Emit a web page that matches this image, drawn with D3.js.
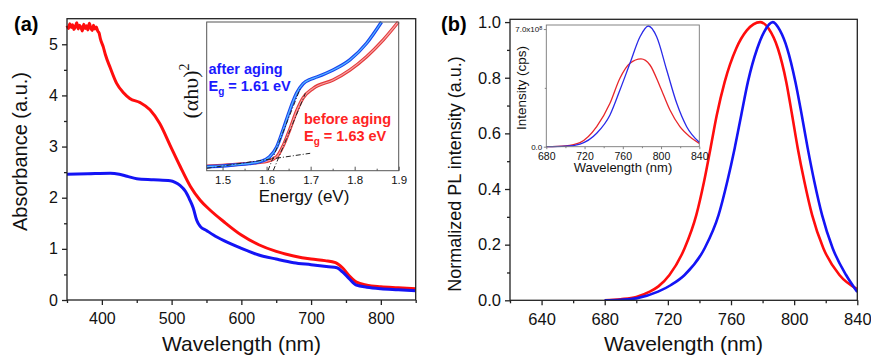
<!DOCTYPE html>
<html>
<head>
<meta charset="utf-8">
<script src="https://cdn.jsdelivr.net/npm/d3@7"></script>
<style>
  body { margin: 0; background: #fff; }
  svg { font-family: "Liberation Sans", Arial, sans-serif; }
</style>
</head>
<body>
<svg id="fig" width="871" height="356"></svg>
<script>
// ---- (a) absorbance, before aging (red) / after aging (blue)
const absWaveRed = [350, 352, 354, 356, 358, 360, 362, 364, 366, 368, 370, 372, 374, 376, 378, 380, 382, 384, 386, 388, 390, 392, 394, 396, 398,
  402, 405, 412, 421, 431, 440, 455, 469, 483, 498, 512, 527, 541, 555, 575, 600, 625, 650, 675, 700, 720, 735, 745, 755, 765, 780, 800, 825, 850];
const absRed = [5.36, 5.31, 5.40, 5.33, 5.38, 5.29, 5.35, 5.42, 5.30, 5.37, 5.33, 5.26, 5.39, 5.31, 5.36, 5.28, 5.41, 5.32, 5.27, 5.37, 5.30, 5.34, 5.26, 5.22, 5.10,
  4.95, 4.80, 4.54, 4.24, 4.05, 3.94, 3.86, 3.72, 3.45, 3.02, 2.62, 2.22, 1.95, 1.76, 1.53, 1.27, 1.08, 0.95, 0.86, 0.80, 0.77, 0.73, 0.63, 0.47, 0.35, 0.29, 0.26, 0.24, 0.22];
const absWaveBlue = [350, 380, 412, 425, 436, 450, 474, 498, 505, 512, 520, 526, 531, 536, 541, 550, 560, 575, 600, 625, 650, 675, 700, 725, 737, 745, 755, 765, 780, 800, 825, 850];
const absBlue = [2.46, 2.47, 2.48, 2.46, 2.42, 2.37, 2.35, 2.33, 2.30, 2.24, 2.12, 1.96, 1.80, 1.56, 1.44, 1.36, 1.27, 1.16, 1.01, 0.88, 0.80, 0.73, 0.69, 0.65, 0.63, 0.55, 0.41, 0.29, 0.25, 0.22, 0.20, 0.18];
const absXTicks = [400, 500, 600, 700, 800];
const absYTicks = [0, 1, 2, 3, 4, 5];

// ---- (a) inset, Tauc plot (normalised)
const taucEBlue = [1.464, 1.50, 1.524, 1.56, 1.585, 1.607, 1.623, 1.638, 1.653, 1.668, 1.683, 1.70, 1.714, 1.751, 1.789, 1.827, 1.861];
const taucBlue = [0.027, 0.032, 0.038, 0.048, 0.061, 0.094, 0.16, 0.28, 0.41, 0.52, 0.585, 0.615, 0.63, 0.677, 0.745, 0.857, 1.0];
const taucERed = [1.464, 1.50, 1.55, 1.585, 1.60, 1.623, 1.638, 1.653, 1.668, 1.683, 1.706, 1.751, 1.789, 1.827, 1.865, 1.899];
const taucRed = [0.03, 0.036, 0.047, 0.056, 0.063, 0.094, 0.17, 0.28, 0.40, 0.49, 0.554, 0.61, 0.677, 0.767, 0.88, 1.0];
const taucBase = [[1.464, 0.016], [1.699, 0.117]];
const taucTangentBlue = [[1.603, 0], [1.676, 0.55]];
const taucTangentRed = [[1.615, 0], [1.688, 0.52]];
const taucXTicks = [1.5, 1.6, 1.7, 1.8, 1.9];

// ---- (b) normalised PL
const plWaveRed = [680, 690, 700, 708.5, 714, 721, 730.6, 738, 742.9, 747, 751, 756, 763.3, 770, 778.5, 784, 789.7, 795, 798.7, 802.3, 806.5, 811.4, 818.5, 828.7, 840];
const plRed = [0, 0.004, 0.012, 0.031, 0.05, 0.091, 0.187, 0.306, 0.426, 0.546, 0.666, 0.785, 0.905, 0.97, 1.0, 0.975, 0.905, 0.785, 0.666, 0.546, 0.426, 0.306, 0.187, 0.091, 0.04];
const plWaveBlue = [680, 690, 700, 713.8, 722, 730.6, 743.3, 752.1, 757.6, 762.3, 766.5, 770.7, 776.6, 781, 786.5, 791, 795.6, 800.8, 804.8, 808.6, 812.8, 817.7, 824.4, 832.9, 840];
const plBlue = [0, 0.002, 0.007, 0.031, 0.055, 0.091, 0.187, 0.306, 0.426, 0.546, 0.666, 0.785, 0.905, 0.965, 1.0, 0.97, 0.905, 0.785, 0.666, 0.546, 0.426, 0.306, 0.187, 0.091, 0.03];
const plXTicks = [640, 680, 720, 760, 800, 840];
const plYTicks = [0, 0.2, 0.4, 0.6, 0.8, 1.0];

// ---- (b) inset, raw PL intensity (x 1e8 cps)
const rawWave = [680, 700, 715.2, 732.7, 746.6, 757, 767.5, 778, 786.7, 795.4, 805.9, 816.4, 826.8, 840];
const rawBlue = [0, 0.03, 0.16, 0.8, 1.89, 3.37, 4.96, 6.54, 7.18, 6.54, 4.56, 2.58, 1.19, 0.26];
const rawWaveRed = [680, 700, 715.2, 732.7, 746.6, 757, 767.5, 779, 788.4, 799, 809.3, 819.7, 830.2, 840];
const rawRed = [0, 0.05, 0.24, 1.19, 2.58, 4.07, 4.96, 5.22, 4.86, 3.57, 2.18, 1.19, 0.59, 0.2];
const rawXTicks = [680, 720, 760, 800, 840];

const RED = '#ff0d0d', BLUE = '#1414f5';
const zip = (xs, ys) => xs.map((v, i) => [v, ys[i]]);

const svg = d3.select('#fig');

function axes(g, x, y, o) {
  const [x0, x1] = x.range();
  const [y0, y1] = y.range();
  g.append('g').attr('transform', `translate(0,${y0})`)
    .call(d3.axisBottom(x).tickValues(o.xTicks).tickFormat(o.xFmt).tickSize(o.tick).tickPadding(o.xPad));
  if (o.xMinor) g.append('g').attr('transform', `translate(0,${y0})`)
    .call(d3.axisBottom(x).tickValues(o.xMinor).tickFormat('').tickSize(o.minor));
  if (o.yTicks) g.append('g').attr('transform', `translate(${x0},0)`)
    .call(d3.axisLeft(y).tickValues(o.yTicks).tickFormat(o.yFmt).tickSize(o.tick).tickPadding(o.yPad));
  if (o.yMinor) g.append('g').attr('transform', `translate(${x0},0)`)
    .call(d3.axisLeft(y).tickValues(o.yMinor).tickFormat('').tickSize(o.minor));
  g.selectAll('.domain').remove();
  g.selectAll('.tick line').attr('stroke', o.color).attr('stroke-width', o.lw);
  g.selectAll('.tick text').attr('fill', '#111').style('font-size', o.font + 'px').style('font-family', '"Liberation Sans", Arial, sans-serif');
  g.append('rect')
    .attr('x', x0).attr('y', y1).attr('width', x1 - x0).attr('height', y0 - y1)
    .attr('fill', 'none').attr('stroke', o.color).attr('stroke-width', o.lw);
}

function curve(g, x, y, pts, color, width) {
  return g.append('path')
    .datum(pts)
    .attr('fill', 'none')
    .attr('stroke', color)
    .attr('stroke-width', width)
    .attr('stroke-linejoin', 'round')
    .attr('d', d3.line().x(d => x(d[0])).y(d => y(d[1])).curve(d3.curveMonotoneX));
}

// ================= panel (a)
const ax = d3.scaleLinear().domain([350, 850]).range([67, 415.7]);
const ay = d3.scaleLinear().domain([0, 5.5]).range([300, 18.7]);
const ga = svg.append('g');
curve(ga, ax, ay, zip(absWaveRed, absRed), RED, 3);
curve(ga, ax, ay, zip(absWaveBlue, absBlue), BLUE, 3);
axes(ga, ax, ay, {
  xTicks: absXTicks, xFmt: d3.format('d'), xMinor: [350, 450, 550, 650, 750, 850],
  yTicks: absYTicks, yFmt: d3.format('d'), yMinor: [0.5, 1.5, 2.5, 3.5, 4.5],
  tick: 5, minor: 3, xPad: 8, yPad: 4, font: 16, color: '#222', lw: 1.3
});
ga.append('text').attr('x', 241.5).attr('y', 351).attr('text-anchor', 'middle')
  .style('font-size', '21px').attr('fill', '#111').text('Wavelength (nm)');
ga.append('text').attr('transform', 'translate(27,151.5) rotate(-90)').attr('text-anchor', 'middle')
  .style('font-size', '20px').attr('fill', '#111').text('Absorbance (a.u.)');
ga.append('text').attr('x', 14).attr('y', 31).style('font-size', '20px').style('font-weight', 'bold').text('(a)');

// ----- inset (a)
const ix = d3.scaleLinear().domain([1.464, 1.9]).range([206.7, 398.7]);
const iy = d3.scaleLinear().domain([0, 1]).range([170.7, 22]);
const gi = svg.append('g');
gi.append('rect').attr('x', 206.7).attr('y', 22).attr('width', 192).attr('height', 148.7).attr('fill', '#fff');
curve(gi, ix, iy, zip(taucERed, taucRed), '#e4393b', 3.4);
curve(gi, ix, iy, zip(taucERed, taucRed), '#f4a3a3', 1.2);
curve(gi, ix, iy, zip(taucEBlue, taucBlue), '#1844f0', 3.4);
curve(gi, ix, iy, zip(taucEBlue, taucBlue), '#58b8ff', 1.2);
[taucBase, taucTangentBlue, taucTangentRed].forEach(seg => {
  gi.append('path').datum(seg)
    .attr('fill', 'none').attr('stroke', '#222').attr('stroke-width', 1)
    .attr('stroke-dasharray', '5,2,1,2')
    .attr('d', d3.line().x(d => ix(d[0])).y(d => iy(d[1])));
});
axes(gi, ix, iy, {
  xTicks: taucXTicks, xFmt: d3.format('.1f'), xMinor: [1.55, 1.65, 1.75, 1.85],
  tick: -4, minor: -2, xPad: 5.5, font: 11.5, color: '#555', lw: 1
});
gi.append('text').attr('x', 304).attr('y', 201.5).attr('text-anchor', 'middle')
  .style('font-size', '17px').attr('fill', '#111').text('Energy (eV)');
gi.append('text').attr('transform', 'translate(198,91) rotate(-90)').attr('text-anchor', 'middle')
  .style('font-family', '"Liberation Serif", "DejaVu Serif", serif').style('font-size', '22px').attr('fill', '#111')
  .call(t => {
    t.append('tspan').text('(αhυ)');
    t.append('tspan').attr('dy', -9).style('font-size', '14px').text('2');
  });

function gapLabel(g, x, y, color, head, value) {
  g.append('text').attr('x', x).attr('y', y).attr('fill', color)
    .style('font-size', '14.5px').style('font-weight', 'bold').text(head);
  const t = g.append('text').attr('x', x).attr('y', y + 16.5).attr('fill', color)
    .style('font-size', '14.5px').style('font-weight', 'bold');
  t.append('tspan').text('E');
  t.append('tspan').attr('dy', 4).style('font-size', '10px').text('g');
  t.append('tspan').attr('dy', -4).text(` = ${value} eV`);
}
gapLabel(gi, 208.5, 74, '#1a1aff', 'after aging', '1.61');
gapLabel(gi, 304, 124, '#ff2424', 'before aging', '1.63');

// ================= panel (b)
const bx = d3.scaleLinear().domain([620, 840]).range([510, 857.3]);
const by = d3.scaleLinear().domain([0, 1.01]).range([300.3, 19.3]);
const gb = svg.append('g');
gb.append('clipPath').attr('id', 'clipb').append('rect')
  .attr('x', 510).attr('y', 19.3).attr('width', 347.3).attr('height', 281);
const gbc = gb.append('g').attr('clip-path', 'url(#clipb)');
curve(gbc, bx, by, zip(plWaveRed, plRed), RED, 2.6);
curve(gbc, bx, by, zip(plWaveBlue, plBlue), BLUE, 2.6);
axes(gb, bx, by, {
  xTicks: plXTicks, xFmt: d3.format('d'), xMinor: [620, 660, 700, 740, 780, 820],
  yTicks: plYTicks, yFmt: d3.format('.1f'), yMinor: [0.1, 0.3, 0.5, 0.7, 0.9],
  tick: 5, minor: 3, xPad: 8, yPad: 4, font: 16.5, color: '#222', lw: 1.3
});
gb.append('text').attr('x', 683.5).attr('y', 351).attr('text-anchor', 'middle')
  .style('font-size', '21px').attr('fill', '#111').text('Wavelength (nm)');
gb.append('text').attr('transform', 'translate(460.5,174) rotate(-90)').attr('text-anchor', 'middle')
  .style('font-size', '18px').attr('fill', '#111').text('Normalized PL intensity (a.u.)');
gb.append('text').attr('x', 441).attr('y', 31).style('font-size', '20px').style('font-weight', 'bold').text('(b)');

// ----- inset (b)
const jx = d3.scaleLinear().domain([680, 840]).range([546.3, 699.3]);
const jy = d3.scaleLinear().domain([0, 7.24]).range([146.7, 25]);
const gj = svg.append('g');
gj.append('rect').attr('x', 546.3).attr('y', 25).attr('width', 153).attr('height', 121.7).attr('fill', '#fff');
curve(gj, jx, jy, zip(rawWaveRed, rawRed), '#e8262a', 1.3);
curve(gj, jx, jy, zip(rawWave, rawBlue), '#2a2ae8', 1.3);
axes(gj, jx, jy, {
  xTicks: rawXTicks, xFmt: d3.format('d'), xMinor: [700, 740, 780, 820],
  yTicks: [0, 7], yFmt: d3.format('.1f'), yMinor: [3.5],
  tick: 2.5, minor: 1.5, xPad: 3, yPad: 1.5, font: 10.5, color: '#777', lw: 0.9
});
// the 7.0x10^8 label needs a superscript
gj.selectAll('.tick text').filter(d => d === 7 || d === 0).style('font-size', '8px');
gj.selectAll('.tick text').filter(d => d === 7).text('7.0x10')
  .append('tspan').attr('dy', '-0.45em').style('font-size', '5.5px').text('8');
gj.append('text').attr('x', 623).attr('y', 172).attr('text-anchor', 'middle')
  .style('font-size', '13px').attr('fill', '#111').text('Wavelength (nm)');
gj.append('text').attr('transform', 'translate(526,88) rotate(-90)').attr('text-anchor', 'middle')
  .style('font-size', '13.5px').attr('fill', '#111').text('Intensity (cps)');
</script>
</body>
</html>
